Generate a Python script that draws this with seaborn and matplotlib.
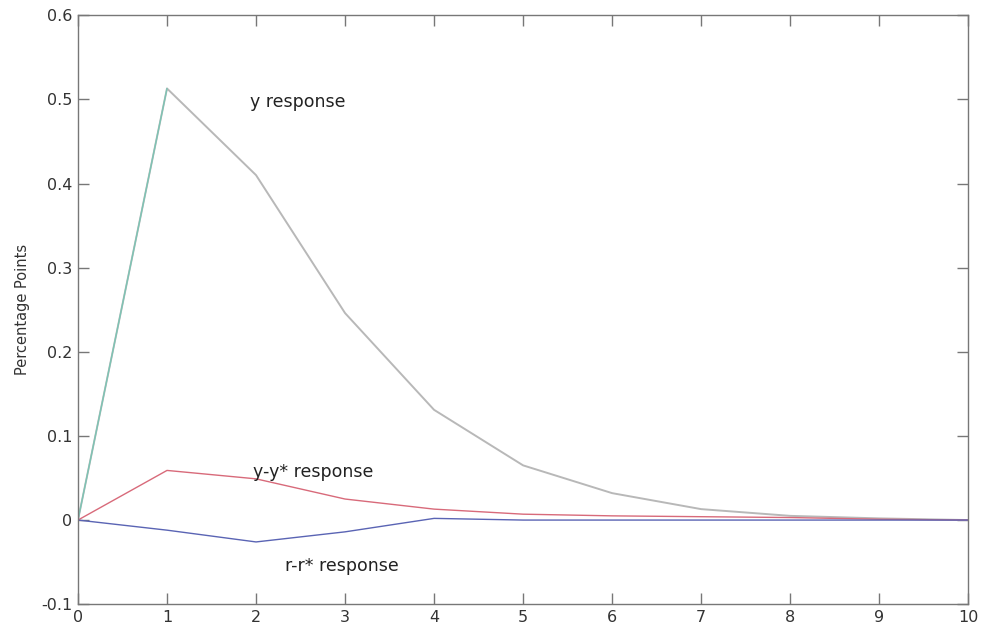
import matplotlib
matplotlib.use("Agg")
import matplotlib.pyplot as plt
import seaborn as sns
import pandas as pd

periods = [0, 1, 2, 3, 4, 5, 6, 7, 8, 9, 10]
y_resp = [0.0, 0.513, 0.410, 0.246, 0.131, 0.065, 0.032, 0.013, 0.005, 0.002, 0.0]
gap_resp = [0.0, 0.059, 0.049, 0.025, 0.013, 0.007, 0.005, 0.004, 0.003, 0.001, 0.0]
rate_resp = [0.0, -0.012, -0.026, -0.014, 0.002, 0.0, 0.0, 0.0, 0.0, 0.0, 0.0]
x_ticks = [0, 1, 2, 3, 4, 5, 6, 7, 8, 9, 10]
y_ticks = [-0.1, 0, 0.1, 0.2, 0.3, 0.4, 0.5, 0.6]
y_tick_labels = ["-0.1", "0", "0.1", "0.2", "0.3", "0.4", "0.5", "0.6"]

sns.set_style("ticks")
plt.rcParams['font.family'] = ['DejaVu Sans']

df = pd.DataFrame({"t": periods, "y": y_resp, "gap": gap_resp, "rate": rate_resp})

fig = plt.figure(figsize=(9.87, 6.36), dpi=100)
ax = fig.add_axes([0.079, 0.050, 0.902, 0.926])

sns.lineplot(data=df, x="t", y="y", ax=ax, color="#b8b8b8", linewidth=1.4)
sns.lineplot(data=df.iloc[:2], x="t", y="y", ax=ax, color="#7cc4b4", linewidth=1.0)
sns.lineplot(data=df, x="t", y="gap", ax=ax, color="#d86a7a", linewidth=1.0)
sns.lineplot(data=df, x="t", y="rate", ax=ax, color="#5a64b4", linewidth=1.0)

ax.set_xlim(0, 10)
ax.set_ylim(-0.1, 0.6)
ax.set_xticks(x_ticks)
ax.set_xticklabels([str(v) for v in x_ticks])
ax.set_yticks(y_ticks)
ax.set_yticklabels(y_tick_labels)
ax.set_xlabel("")
ax.set_ylabel("Percentage Points", fontsize=10.5, color="#333333", labelpad=8)

for side in ["top", "right", "left", "bottom"]:
    ax.spines[side].set_visible(True)
    ax.spines[side].set_color("#777777")
    ax.spines[side].set_linewidth(1.0)
ax.tick_params(direction="in", top=True, right=True, length=8, width=1.0,
               color="#777777", labelsize=11.5, labelcolor="#333333", pad=4)

ax.text(1.93, 0.497, "y response", fontsize=12.5, color="#222222", va="center")
ax.text(1.97, 0.057, "y-y* response", fontsize=12.5, color="#222222", va="center")
ax.text(2.33, -0.055, "r-r* response", fontsize=12.5, color="#222222", va="center")

fig.savefig("out.png", dpi=100)
